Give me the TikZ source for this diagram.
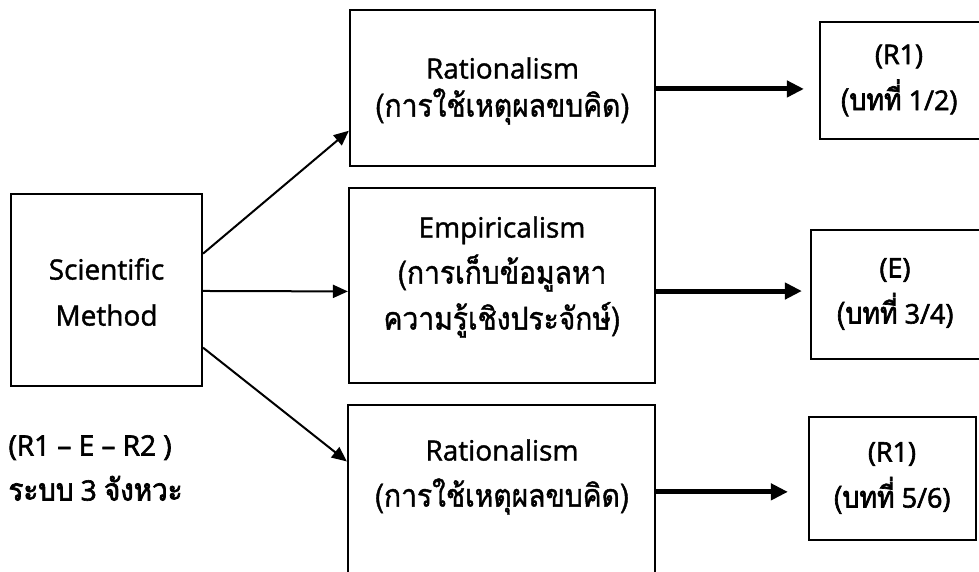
\documentclass[tikz,border=0pt]{standalone}
\usepackage{fontspec}
\setmainfont{Open Sans}[FakeBold=1.3]
\newfontfamily\thai{Loma}[Script=Thai,Scale=1.12,FakeStretch=0.9,FakeBold=1.3]
\newfontfamily\heavy{Open Sans}[FakeBold=2.2]
\newfontfamily\heavythai{Loma}[Script=Thai,Scale=1.1,FakeStretch=0.9,FakeBold=2.2]
\usetikzlibrary{arrows.meta,calc}

\begin{document}
\begin{tikzpicture}[x=1pt,y=-1pt,
  box/.style={draw,line width=2.2pt,inner sep=0pt},
  big/.style={align=center,font=\fontsize{28}{46}\selectfont},
  small/.style={align=center,font=\heavy\fontsize{27}{46}\selectfont},
  thinarrow/.style={line width=2pt,-{Triangle[length=15pt,width=13pt]}},
  thickarrow/.style={line width=5pt,-{Triangle[length=17pt,width=16pt]}}]
\useasboundingbox (0,0) rectangle (979,571);
\clip (0,0) rectangle (979,571);

% source box
\node[box,minimum width=191pt,minimum height=192pt] (sm) at (106.5,290) {};
\node[big] (smt) at (106.5,292) {Scientific\\Method};

% the three approaches
\node[box,minimum width=305pt,minimum height=156pt] (r1) at (502.5,88) {};
\node[big] (r1t) at (502.5,91) {Rationalism\\[-8pt]{\thai (การใช้เหตุผลขบคิด)}};
\node[box,minimum width=306pt,minimum height=195pt] (em) at (502,285.5) {};
\node[big] (emt) at (502,277)
  {Empiricalism\\{\thai (การเก็บข้อมูลหา}\\{\thai ความรู้เชิงประจักษ์)}};
\node[box,minimum width=307pt,minimum height=195pt] (r2) at (501.5,502.5) {};
\node[big] (r2t) at (502,477) {Rationalism\\{\thai (การใช้เหตุผลขบคิด)}};

% chapter boxes
\node[box,minimum width=162pt,minimum height=117pt] (o1) at (901,80.5) {};
\node[small] (o1t) at (899,80.5) {(R1)\\{\heavythai (บทที่} 1/2)};
\node[box,minimum width=171pt,minimum height=129pt] (o2) at (896.5,294.5) {};
\node[small] (o2t) at (895,294) {(E)\\{\heavythai (บทที่} 3/4)};
\node[box,minimum width=167pt,minimum height=123pt] (o3) at (892.5,478.5) {};
\node[small] (o3t) at (892,478) {(R1)\\{\heavythai (บทที่} 5/6)};

% caption
\node[small,align=left,anchor=west,font=\heavy\fontsize{28}{45}\selectfont] (note) at (5,468)
  {(R1 – E – R2 )\\{\heavythai ระบบ} 3 {\heavythai จังหวะ}};

% branches
\draw[thinarrow] ($(sm.north east)!0.3125!(sm.south east)$) -- ($(r1.north west)!0.77!(r1.south west)$);
\draw[thinarrow] ($(sm.north east)!0.505!(sm.south east)$) -- ($(em.north west)!0.53!(em.south west)$);
\draw[thinarrow] ($(sm.north east)!0.797!(sm.south east)$) -- ($(r2.north west)!0.292!(r2.south west)$);

% results
\coordinate (a1) at ($(r1.north east)!0.506!(r1.south east)$);
\coordinate (a2) at ($(em.north east)!0.528!(em.south east)$);
\coordinate (a3) at ($(r2.north east)!0.446!(r2.south east)$);
\draw[thickarrow,shorten >=15pt] (a1) -- (a1 -| o1.west);
\draw[thickarrow,shorten >=8pt] (a2) -- (a2 -| o2.west);
\draw[thickarrow,shorten >=20pt] (a3) -- (a3 -| o3.west);
\end{tikzpicture}
\end{document}
